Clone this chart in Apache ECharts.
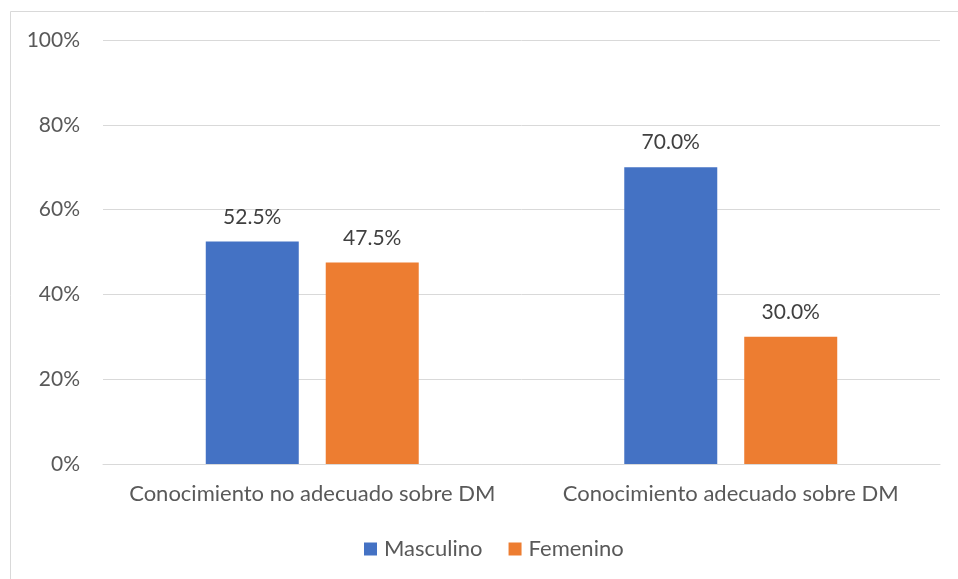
<!DOCTYPE html>
<html>
<head>
<meta charset="utf-8">
<script src="https://cdn.jsdelivr.net/npm/echarts@6/dist/echarts.min.js"></script>
<style>
  html, body { margin: 0; padding: 0; background: #ffffff; }
  #chart { width: 958px; height: 579px; }
</style>
</head>
<body>
<div id="chart"></div>
<script>
// Knowledge of diabetes mellitus by sex
const categories = ['Conocimiento no adecuado sobre DM', 'Conocimiento adecuado sobre DM'];
const masculino = [52.5, 70.0];
const femenino = [47.5, 30.0];
const seriesNames = ['Masculino', 'Femenino'];

const FONT = 'Lato, "Open Sans", sans-serif';
const chart = echarts.init(document.getElementById('chart'), null, { renderer: 'canvas' });

const labelOpt = {
  show: true,
  position: 'top',
  distance: 14,
  color: '#404040',
  fontFamily: FONT,
  fontSize: 21,
  formatter: p => p.value.toFixed(1) + '%'
};

chart.setOption({
  animation: false,
  backgroundColor: '#ffffff',
  graphic: [{
    type: 'rect',
    shape: { x: 10.5, y: 11.5, width: 1000, height: 700 },
    style: { fill: 'none', stroke: '#d9d9d9', lineWidth: 1 },
    silent: true,
    z: -1
  }],
  grid: { left: 103, right: 18, top: 40, bottom: 115, containLabel: false },
  legend: {
    data: seriesNames,
    bottom: 14,
    left: 359,
    itemWidth: 13,
    itemHeight: 13,
    itemGap: 26,
    icon: 'rect',
    textStyle: { color: '#595959', fontFamily: FONT, fontSize: 22, padding: [0, 0, 0, 2] }
  },
  xAxis: {
    type: 'category',
    data: categories,
    axisLine: { show: true, lineStyle: { color: '#d9d9d9', width: 1 } },
    axisTick: { show: false },
    axisLabel: { interval: 0, color: '#595959', fontFamily: FONT, fontSize: 22, margin: 19 }
  },
  yAxis: {
    type: 'value',
    min: 0,
    max: 100,
    interval: 20,
    axisLine: { show: false },
    axisTick: { show: false },
    splitLine: { lineStyle: { color: '#d9d9d9', width: 1 } },
    axisLabel: {
      color: '#595959',
      fontFamily: FONT,
      fontSize: 21,
      margin: 23,
      formatter: v => v + '%'
    }
  },
  series: [
    {
      name: seriesNames[0],
      type: 'bar',
      data: masculino,
      barWidth: 93,
      barGap: '29%',
      itemStyle: { color: '#4472c4' },
      label: labelOpt
    },
    {
      name: seriesNames[1],
      type: 'bar',
      data: femenino,
      barWidth: 93,
      barGap: '29%',
      itemStyle: { color: '#ed7d31' },
      label: labelOpt
    }
  ]
});
</script>
</body>
</html>
